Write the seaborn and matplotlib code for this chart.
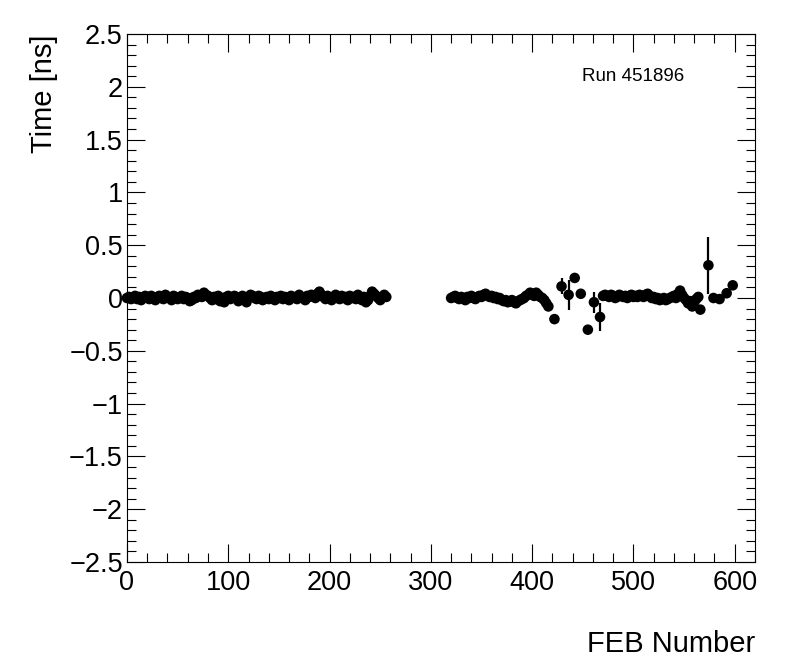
import numpy as np
import pandas as pd
import matplotlib
matplotlib.use("Agg")
import matplotlib.pyplot as plt
import seaborn as sns
from matplotlib.ticker import MultipleLocator

# FEB 0-256 (every 2nd FEB)
feb_a = np.arange(0, 257, 2)
time_a = [
    0.00, 0.01, -0.01, 0.00, 0.02, -0.01, 0.01, -0.02, 0.00, 0.02,
    0.01, -0.01, 0.02, 0.00, -0.02, 0.01, 0.02, 0.00, -0.01, 0.03,
    0.01, 0.00, -0.02, 0.02, 0.01, -0.01, 0.00, 0.02, -0.01, 0.01,
    0.00, -0.03, -0.02, 0.01, 0.00, 0.03, 0.02, 0.01, 0.05, 0.03,
    0.02, 0.00, -0.02, 0.01, -0.01, 0.02, -0.03, 0.00, -0.04, 0.01,
    0.02, -0.01, 0.00, 0.02, 0.01, -0.03, -0.01, 0.02, 0.00, -0.04,
    0.01, 0.03, 0.02, 0.00, -0.01, 0.02, 0.01, -0.02, 0.00, 0.01,
    -0.01, 0.02, 0.00, -0.02, 0.01, 0.00, 0.02, -0.01, 0.01, 0.00,
    -0.02, 0.02, 0.01, 0.00, -0.01, 0.03, 0.01, 0.00, -0.02, 0.02,
    0.01, 0.03, 0.02, 0.00, 0.04, 0.06, 0.03, 0.01, -0.01, 0.02,
    0.00, -0.02, 0.01, 0.03, 0.00, -0.01, 0.02, 0.00, 0.01, -0.02,
    0.02, 0.00, 0.01, -0.01, 0.03, 0.00, -0.02, 0.01, -0.04, -0.02,
    0.02, 0.06, 0.04, 0.02, 0.00, -0.02, 0.01, 0.03, 0.01,
]

# FEB 320-416 (every 2nd FEB)
feb_b = np.arange(320, 417, 2)
time_b = [
    0.00, 0.01, 0.02, 0.00, -0.01, 0.01, 0.00, -0.02, 0.01, 0.00,
    0.02, 0.00, -0.01, 0.01, 0.02, 0.01, 0.03, 0.04, 0.02, 0.01,
    0.02, 0.00, 0.01, -0.01, 0.00, -0.02, -0.03, -0.02, -0.04, -0.03,
    -0.02, -0.04, -0.05, -0.03, -0.02, -0.01, 0.00, 0.02, 0.03, 0.05,
    0.04, 0.02, 0.05, 0.03, 0.01, 0.00, -0.02, -0.05, -0.08,
]

# sparse FEBs between the dense blocks
feb_c = [422, 429, 436, 442, 448, 455, 461, 467]
time_c = [-0.20, 0.11, 0.03, 0.19, 0.04, -0.30, -0.04, -0.18]
err_c = [0.02, 0.075, 0.145, 0.02, 0.02, 0.02, 0.10, 0.13]

# FEB 470-566 (every 2nd FEB)
feb_d = np.arange(470, 567, 2)
time_d = [
    0.02, 0.03, 0.02, 0.01, 0.03, 0.02, 0.00, 0.01, 0.03, 0.02,
    0.01, 0.02, 0.00, 0.02, 0.03, 0.01, 0.02, 0.01, 0.03, 0.02,
    0.01, 0.03, 0.04, 0.02, 0.00, 0.01, -0.01, 0.00, -0.02, -0.01,
    0.00, -0.02, -0.01, 0.00, 0.01, 0.02, 0.00, 0.04, 0.07, 0.03,
    0.00, -0.02, -0.05, -0.03, -0.08, -0.04, -0.01, 0.01, -0.11,
]

# last sparse FEBs
feb_e = [574, 579, 585, 592, 598]
time_e = [0.31, 0.00, -0.01, 0.045, 0.12]
err_e = [0.27, 0.03, 0.02, 0.02, 0.02]

feb = np.concatenate([feb_a, feb_b, feb_c, feb_d, feb_e])
tim = np.concatenate([time_a, time_b, time_c, time_d, time_e])
err = np.concatenate([np.full(len(feb_a), 0.01), np.full(len(feb_b), 0.01), err_c,
                      np.full(len(feb_d), 0.01), err_e])
df = pd.DataFrame({"feb": feb, "time": tim, "err": err})

sns.set_style("ticks")
plt.rcParams['font.family'] = ['Liberation Sans', 'DejaVu Sans']
plt.rcParams['text.color'] = 'black'
plt.rcParams['axes.labelcolor'] = 'black'

fig = plt.figure(figsize=(7.96, 6.72), dpi=100)
ax = fig.add_axes([0.1595, 0.1637, 0.789, 0.7857])

ax.errorbar(df["feb"], df["time"], yerr=df["err"], fmt='none', ecolor='black',
            elinewidth=1.6, capsize=0, clip_on=False, zorder=2)
sns.scatterplot(data=df, x="feb", y="time", ax=ax, color='black', s=58,
                edgecolor='none', clip_on=False, zorder=3, legend=False)

ax.set_xlim(0, 620)
ax.set_ylim(-2.5, 2.5)
ax.xaxis.set_major_locator(MultipleLocator(100))
ax.xaxis.set_minor_locator(MultipleLocator(20))
ax.yaxis.set_major_locator(MultipleLocator(0.5))
ax.yaxis.set_minor_locator(MultipleLocator(0.1))
ax.yaxis.set_major_formatter(plt.FuncFormatter(lambda v, p: f"{v:g}".replace('-', '\u2212')))

ax.tick_params(which='both', direction='in', top=True, right=True, width=0.8,
               colors='black', labelcolor='black', labelsize=19.5)
ax.tick_params(which='major', length=13)
ax.tick_params(which='minor', length=6.5)
ax.tick_params(axis='x', pad=6)
ax.tick_params(axis='y', pad=3)
for s in ax.spines.values():
    s.set_linewidth(0.8)
    s.set_color('black')

ax.set_xlabel("FEB Number", fontsize=21, ha='right', x=1.0, labelpad=24)
ax.set_ylabel("Time [ns]", fontsize=21, ha='right', y=1.0, labelpad=8)
ax.text(0.725, 0.92, "Run 451896", transform=ax.transAxes, fontsize=13.5, ha='left', va='center')

fig.savefig("out.png", dpi=100)
